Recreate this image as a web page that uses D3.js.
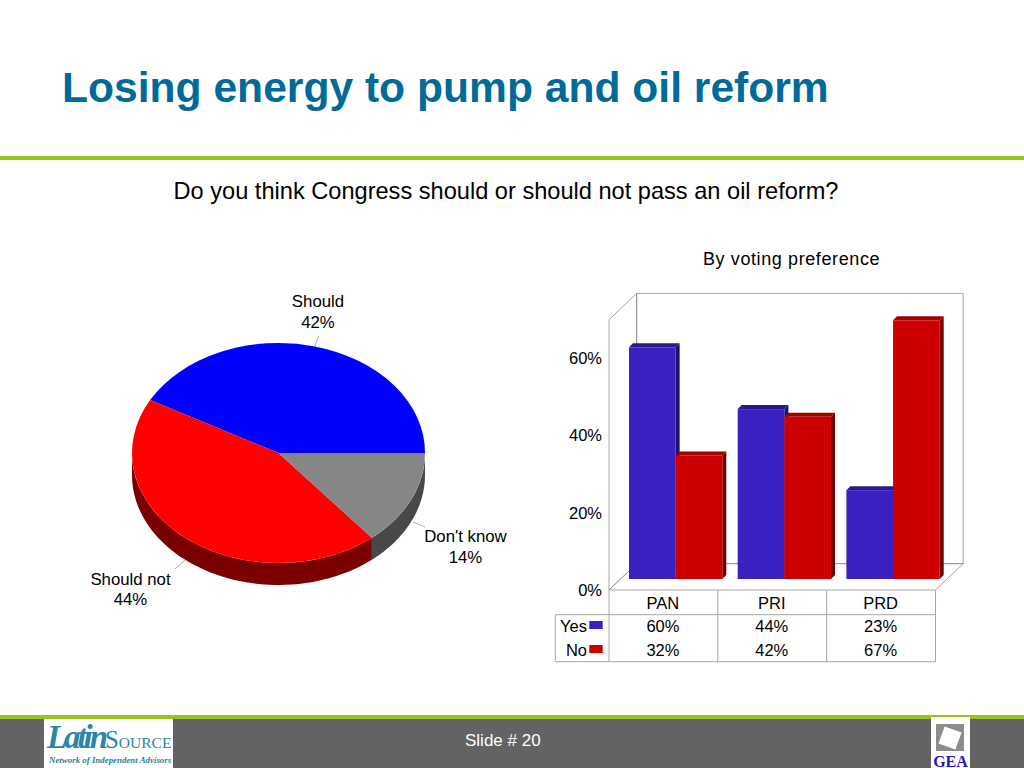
<!DOCTYPE html>
<html><head><meta charset="utf-8">
<script src="https://cdnjs.cloudflare.com/ajax/libs/d3/7.8.5/d3.min.js"></script>
<style>html,body{margin:0;padding:0;background:#fff}svg{display:block}text{font-family:"Liberation Sans",Arial,sans-serif}</style>
</head><body><svg id="c" width="1024" height="768"></svg>
<script>
const titleText = "Losing energy to pump and oil reform";
const questionText = "Do you think Congress should or should not pass an oil reform?";
const barTitle = "By voting preference";
const slideText = "Slide # 20";
const pieLabels = ["Should", "Should not", "Don't know"];
const pieValues = [42, 44, 14];
const categories = ["PAN", "PRI", "PRD"];
const seriesNames = ["Yes", "No"];
const yesValues = [60, 44, 23];
const noValues = [32, 42, 67];
const yTicks = [0, 20, 40, 60];

const svg = d3.select("#c");
const pct = v => v + "%";

// --- slide chrome
svg.append("rect").attr("x",0).attr("y",156).attr("width",1024).attr("height",4).attr("fill","#99c31c");
svg.append("text").attr("x",62).attr("y",102).attr("font-size",42.6).attr("font-weight","bold").attr("fill","#006a9a").text(titleText);
svg.append("text").attr("x",506).attr("y",199).attr("text-anchor","middle").attr("font-size",23.6).attr("fill","#000").text(questionText);
svg.append("rect").attr("x",0).attr("y",719).attr("width",1024).attr("height",49).attr("fill","#636363");
svg.append("rect").attr("x",0).attr("y",715).attr("width",1024).attr("height",4).attr("fill","#99c31c");
svg.append("text").attr("x",465).attr("y",746).attr("font-size",17).attr("fill","#fff").text(slideText);

// logos
svg.append("rect").attr("x",44).attr("y",719).attr("width",129).attr("height",49).attr("fill","#fff");
const lt = svg.append("text").attr("x",47).attr("y",748).attr("fill","#2b86a8").style("font-family","'Liberation Serif',serif");
lt.append("tspan").attr("font-size",33).attr("font-style","italic").attr("font-weight","bold").attr("textLength",61).text("Latin");
lt.append("tspan").attr("font-size",25).text("S");
lt.append("tspan").attr("font-size",15.5).text("OURCE");
svg.append("text").attr("x",49).attr("y",763).attr("font-size",8.9).attr("font-weight","bold").attr("font-style","italic").attr("fill","#2b7f98").style("font-family","'Liberation Serif',serif").text("Network of Independent Advisors");
svg.append("rect").attr("x",931).attr("y",717).attr("width",39).attr("height",51).attr("fill","#fff");
svg.append("rect").attr("x",936).attr("y",724).attr("width",28).attr("height",27).attr("fill","#8c8c8c");
svg.append("rect").attr("x",941).attr("y",729).attr("width",18).attr("height",18).attr("fill","#fff").attr("transform","rotate(20 950 738)");
svg.append("text").attr("x",950.5).attr("y",767).attr("text-anchor","middle").attr("font-size",16).attr("font-weight","bold").attr("fill","#1a1abf").style("font-family","'Liberation Serif',serif").text("GEA");

// --- pie
const cx = 278.5, cy = 453, rx = 146.5, ry = 110, depth = 22;
const pieColors = ["#0000ff", "#ff0000", "#868686"];
const sideColors = ["#00007a", "#7a0000", "#484848"];
const slices = d3.pie().sort(null).startAngle(Math.PI/2).endAngle(Math.PI/2 - 2*Math.PI)(pieValues);
const arc = d3.arc().innerRadius(0).outerRadius(rx);
const pieG = svg.append("g").attr("transform",`translate(${cx},${cy})`);
const pt = (a, dy) => [rx*Math.sin(a), ry*(-Math.cos(a)) + dy];
slices.forEach((s,i) => {
  const a0 = Math.max(s.endAngle, -3*Math.PI/2), a1 = Math.min(s.startAngle, -Math.PI/2);
  if (a1 <= a0) return;
  const as = d3.range(0, 61).map(k => a0 + (a1-a0)*k/60);
  const poly = as.map(a => pt(a,0)).concat(as.slice().reverse().map(a => pt(a,depth)));
  pieG.append("path").attr("d", d3.line()(poly)+"Z").attr("fill", sideColors[i]);
});
pieG.append("g").attr("transform",`scale(1,${ry/rx})`).selectAll("path").data(slices).join("path")
  .attr("d", arc).attr("fill",(d,i)=>pieColors[i]);
const leaders = [[[315,346],[318.5,336]],[[185,560],[175,569]],[[413,522],[425,527]]];
svg.append("g").selectAll("path").data(leaders).join("path").attr("d",d=>d3.line()(d)).attr("stroke","#aaa").attr("fill","none");
const labelPos = [[318,307,328],[130.5,585,605],[465.5,542,563]];
pieLabels.forEach((l,i)=>{
  const [x,y1,y2] = labelPos[i];
  svg.append("text").attr("x",x).attr("y",y1).attr("text-anchor","middle").attr("font-size",16.8).text(l);
  svg.append("text").attr("x",x).attr("y",y2).attr("text-anchor","middle").attr("font-size",16.8).text(pct(pieValues[i]));
});

// --- 3D bars
const wallDx = 27.7, wallDy = 26.3, barLift = 11;
const y = d3.scaleLinear().domain([0,70]).range([590,319.7]);
const frontL = 609, frontR = 935.5;
const wallC = "#a6a6a6";
const bk = svg.append("g").attr("fill","none").attr("stroke",wallC);
bk.append("path").attr("d",d3.line()([[frontL,y(70)],[frontL+wallDx,y(70)-wallDy],[frontR+wallDx,y(70)-wallDy],[frontR+wallDx,y(0)-wallDy],[frontR,y(0)]]));
bk.append("path").attr("d",d3.line()([[frontL,y(0)],[frontL,y(70)]]));
bk.append("path").attr("stroke","#808080").attr("d",d3.line()([[frontL+wallDx,y(70)-wallDy],[frontL+wallDx,y(0)-wallDy],[frontR+wallDx,y(0)-wallDy]]));
bk.append("path").attr("stroke","#808080").attr("d",d3.line()([[frontL,y(0)],[frontL+wallDx,y(0)-wallDy]]));

const x0 = d3.scaleBand().domain(categories).range([621.3,947.4]).paddingInner(0.1417).paddingOuter(0.0708);
const x1 = d3.scaleBand().domain(seriesNames).range([0,x0.bandwidth()]);
const barColors = {Yes:{f:"#3a20c0",t:"#2a1a8c",s:"#1c1070"},No:{f:"#cc0000",t:"#a00000",s:"#700000"}};
const bd = 4;
const valuesBySeries = {Yes:yesValues, No:noValues};
const barsG = svg.append("g");
categories.forEach((c,ci)=>{
  seriesNames.forEach(sn=>{
    const v = valuesBySeries[sn][ci], col = barColors[sn];
    const xa = x0(c)+x1(sn), w = x1.bandwidth(), yt = y(v)-barLift, yb = y(0)-barLift;
    barsG.append("path").attr("fill",col.s).attr("d",d3.line()([[xa+w,yt],[xa+w+bd,yt-bd],[xa+w+bd,yb-bd],[xa+w,yb]])+"Z");
    barsG.append("path").attr("fill",col.t).attr("d",d3.line()([[xa,yt],[xa+bd,yt-bd],[xa+w+bd,yt-bd],[xa+w,yt]])+"Z");
    barsG.append("rect").attr("x",xa).attr("y",yt).attr("width",w).attr("height",yb-yt).attr("fill",col.f);
  });
});
const ax = svg.append("g").attr("transform",`translate(${frontL},0)`)
  .call(d3.axisLeft(y).tickValues(yTicks).tickFormat(pct).tickSize(0).tickPadding(7));
ax.select(".domain").remove();
ax.selectAll("text").attr("font-size",16.5).attr("fill","#000").style("font-family","'Liberation Sans',sans-serif");

svg.append("text").attr("x",703).attr("y",265).attr("font-size",18).attr("letter-spacing",0.6).text(barTitle);

// --- data table
const rows = [590, 614.7, 661.7], tableL = 555.3;
const colX = [frontL].concat(categories.map((c,i)=>frontL+(frontR-frontL)*(i+1)/categories.length));
const tb = svg.append("g").attr("stroke",wallC).attr("fill","none");
tb.append("path").attr("d",d3.line()([[frontL,rows[0]],[frontR,rows[0]]]));
tb.append("path").attr("d",d3.line()([[tableL,rows[1]],[frontR,rows[1]]]));
tb.append("path").attr("d",d3.line()([[tableL,rows[2]],[frontR,rows[2]]]));
tb.append("path").attr("d",d3.line()([[tableL,rows[1]],[tableL,rows[2]]]));
colX.forEach(xv=>tb.append("path").attr("d",d3.line()([[xv,rows[0]],[xv,rows[2]]])));
const rowText = [609, 632, 656];
categories.forEach((c,i)=>{
  const xm = (colX[i]+colX[i+1])/2 - 0.5;
  [c,pct(yesValues[i]),pct(noValues[i])].forEach((t,r)=>{
    svg.append("text").attr("x",xm).attr("y",rowText[r]).attr("text-anchor","middle").attr("font-size",16.5).text(t);
  });
});
seriesNames.forEach((sn,i)=>{
  const ty = rowText[i+1];
  svg.append("text").attr("x",587).attr("y",ty).attr("text-anchor","end").attr("font-size",16.5).text(sn);
  svg.append("rect").attr("x",589.3).attr("y",ty-11).attr("width",13.4).attr("height",8).attr("fill",barColors[sn].f);
});
</script></body></html>
